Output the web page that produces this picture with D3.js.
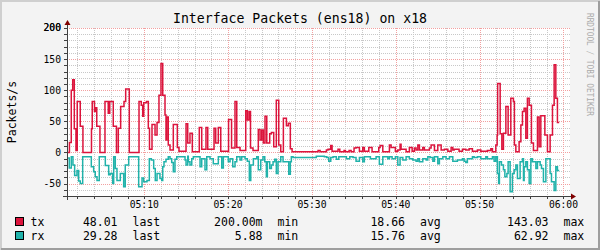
<!DOCTYPE html>
<html>
<head>
<meta charset="utf-8">
<script src="https://cdn.jsdelivr.net/npm/d3@7"></script>
<style>
  body { margin: 0; background: #f0f0f0; }
  svg { display: block; }
  text { font-family: "DejaVu Sans Mono", monospace; fill: #000; }
</style>
</head>
<body>
<div id="vis"></div>
<script>
// step change points: [minutes after 05:00, value]
const txSteps = [
  [0.78, 0], [1.07, 16], [1.29, 100], [1.46, 117], [1.65, 38], [1.85, 3], [2.0, 82], [2.36, 42], [2.68, 0],
  [3.7, 38], [3.79, 82], [4.06, 66], [4.18, 72], [4.33, 42], [4.71, 0],
  [5.31, 82], [5.7, 63], [5.88, 82], [6.3, 42], [6.68, 0],
  [6.9, 39], [7.18, 74], [7.58, 82], [7.78, 102], [8.21, 0],
  [9.37, 82], [9.64, 76], [9.81, 58], [9.93, 80], [10.26, 82], [10.48, 39], [10.62, 5],
  [10.92, 45], [11.28, 28], [11.52, 48], [11.75, 92], [11.99, 143], [12.2, 92], [12.47, 60],
  [12.59, 20], [12.67, 57], [12.86, 12], [13.07, 4], [13.46, 45], [13.94, 8], [14.14, 2],
  [14.98, 46], [15.18, 15], [15.45, 31], [15.73, 1], [16.56, 40], [16.85, 5], [17.36, 40],
  [17.57, 5], [18.32, 39], [18.52, 15], [18.83, 40], [19.12, 2], [20.05, 53], [20.41, 7],
  [20.82, 82], [21.03, 8], [21.42, 3], [22.1, 67], [22.29, 52], [22.49, 66], [22.67, 7],
  [22.97, 3], [23.6, 37], [23.81, 20], [24.01, 36], [24.2, 15], [24.4, 58], [24.61, 15],
  [24.96, 30], [25.16, 32], [25.44, 9], [25.75, 84], [26.04, 12], [26.28, 1], [26.59, 55],
  [26.95, 43], [27.18, 47], [27.42, 6], [27.63, 1],
  [30.73, 3], [30.97, 1], [31.72, 4], [31.92, 5], [32.24, 11], [32.4, 2], [33.11, 5], [33.32, 1],
  [33.83, 3], [33.99, 1], [34.43, 3], [34.67, 1], [35.02, 7], [35.26, 8], [35.66, 2], [36.06, 8],
  [36.25, 2], [36.78, 8], [37.17, 1], [37.97, 8], [38.13, 11], [38.45, 1], [39.24, 12], [39.44, 8],
  [39.95, 2], [40.24, 4], [40.51, 13], [40.63, 5], [41.23, 1], [41.62, 8], [41.95, 2], [42.22, 7],
  [42.42, 4], [42.63, 12], [42.82, 4], [43.22, 8], [43.41, 4], [44.01, 7], [44.21, 12], [44.61, 3],
  [45.01, 12], [45.41, 4], [45.8, 5], [46.21, 2], [46.6, 8], [46.8, 4], [46.96, 5], [47.55, 2],
  [47.95, 5], [48.35, 4], [48.75, 6], [49.14, 2], [49.74, 4], [50.14, 2], [50.93, 3], [51.34, 6],
  [51.53, 1], [51.93, 12], [52.09, 28], [52.15, 111], [52.45, 30], [52.65, 5], [52.84, 31],
  [53.13, 74], [53.4, 28], [53.72, 87], [54.03, 82], [54.15, 12], [54.32, 1], [54.71, 17],
  [54.92, 44], [55.11, 66], [55.31, 71], [55.51, 23], [55.7, 87], [55.91, 76], [56.18, 15],
  [56.42, 3], [56.9, 57], [57.1, 9], [57.3, 59], [57.78, 28], [58.09, 1], [58.41, 28],
  [58.69, 76], [58.89, 141], [59.09, 87], [59.28, 48], [59.49, 48]
];

const rxSteps = [
  [0.78, 9], [1.05, 25], [1.29, 7], [1.49, 20], [1.69, 37], [1.97, 29], [2.17, 46], [2.36, 50], [2.65, 7],
  [3.68, 23], [3.96, 31], [4.15, 39], [4.36, 45], [4.63, 7],
  [5.35, 21], [5.75, 36], [5.94, 34], [6.23, 50], [6.35, 7], [6.54, 26], [6.74, 45], [7.14, 34],
  [7.54, 55], [7.73, 20], [8.14, 7],
  [9.33, 55], [9.73, 41], [9.93, 47], [10.32, 45], [10.6, 10], [10.84, 12], [11.12, 26],
  [11.31, 45], [11.52, 34], [11.87, 42], [12.08, 45], [12.2, 23], [12.35, 15], [12.59, 11],
  [12.86, 7], [13.07, 10], [13.27, 16], [13.46, 31], [13.66, 11], [13.87, 7], [14.86, 12],
  [14.98, 20], [15.18, 6], [15.25, 15], [15.45, 20], [15.66, 10], [15.85, 7], [16.65, 23],
  [16.85, 10], [17.24, 28], [17.45, 7], [17.84, 10], [18.23, 18], [18.83, 7], [19.24, 25],
  [19.43, 7], [20.02, 15], [20.23, 10], [20.55, 23], [20.82, 15], [21.03, 7], [21.42, 12],
  [21.62, 7], [22.02, 10], [22.29, 14], [22.53, 45], [22.7, 20], [23.01, 10], [23.41, 7],
  [23.6, 28], [23.89, 12], [24.16, 7], [24.37, 15], [24.56, 39], [24.68, 15], [24.96, 26],
  [25.16, 20], [25.36, 15], [25.56, 11], [25.75, 34], [25.95, 15], [26.28, 7], [26.55, 15],
  [27.23, 35], [27.42, 15], [27.54, 7], [27.75, 8],
  [30.52, 6], [31.48, 7], [31.77, 8], [32.0, 14], [32.24, 8], [32.52, 7], [32.91, 11], [33.2, 7],
  [34.11, 10], [34.51, 7], [34.9, 8], [35.26, 14], [35.66, 8], [36.06, 15], [36.25, 7],
  [36.97, 10], [37.65, 7], [38.04, 19], [38.45, 7], [39.05, 10], [39.24, 7], [39.56, 10],
  [39.95, 7], [40.24, 20], [40.51, 8], [40.84, 12], [41.23, 7], [41.62, 10], [42.03, 12],
  [42.42, 14], [42.63, 10], [42.82, 15], [43.22, 10], [43.62, 12], [43.82, 7], [44.09, 8],
  [44.42, 14], [44.61, 7], [45.01, 18], [45.2, 10], [45.61, 7], [46.0, 10], [46.4, 7],
  [46.8, 14], [47.35, 12], [47.95, 10], [48.15, 14], [48.35, 16], [48.54, 10], [49.14, 7],
  [49.34, 8], [49.74, 7], [50.14, 10], [50.74, 7], [50.93, 10], [51.53, 7], [51.73, 14],
  [51.93, 7], [52.12, 34], [52.27, 50], [52.36, 15], [52.6, 20], [52.84, 28], [53.01, 39],
  [53.25, 34], [53.4, 15], [53.64, 63], [53.91, 34], [54.12, 28], [54.32, 20], [54.51, 42],
  [54.83, 15], [55.11, 10], [55.23, 45], [55.31, 23], [55.51, 15], [55.7, 28], [55.91, 50],
  [56.11, 10], [56.3, 15], [56.71, 26], [56.9, 15], [57.22, 20], [57.38, 26], [57.61, 47],
  [57.9, 10], [58.41, 34], [58.57, 47], [58.89, 61], [59.09, 23], [59.28, 29], [59.49, 29]
];

const seriesNames = ["tx", "rx"];
const seriesColors = ["#dc143c", "#20b2aa"];
const lastVals = ["48.01", "29.28"];
const minVals = ["200.00m", "5.88"];
const avgVals = ["18.66", "15.76"];
const maxVals = ["143.03", "62.92"];

const W = 600, H = 250;
const plot = { left: 67, right: 570, top: 28, bottom: 196 };

const svg = d3.select("#vis").append("svg").attr("width", W).attr("height", H);

// background + 3d frame
svg.append("rect").attr("width", W).attr("height", H).attr("fill", "#f3f3f3");
svg.append("path").attr("d", `M1,${H} V1 H${W}`).attr("stroke", "#cfcfcf").attr("stroke-width", 2).attr("fill", "none");
svg.append("path").attr("d", `M${W - 1},1 V${H - 1} H1`).attr("stroke", "#9e9e9e").attr("stroke-width", 2).attr("fill", "none");

const t0 = new Date(2024, 0, 1, 5, 0, 0);
const toDate = (m) => new Date(t0.getTime() + m * 60000);

const x = d3.scaleTime()
  .domain([toDate(0.78), toDate(60.78)])
  .range([plot.left, plot.right]);
const y = d3.scaleLinear().domain([-70, 200]).range([plot.bottom, plot.top]);

svg.append("rect")
  .attr("x", plot.left).attr("y", plot.top)
  .attr("width", plot.right - plot.left).attr("height", plot.bottom - plot.top)
  .attr("fill", "#fff");

// grid
const minorX = x.ticks(d3.timeMinute.every(2));
const majorX = x.ticks(d3.timeMinute.every(10));
const yMinor = d3.range(-60, 201, 10).filter((v) => v % 50 !== 0);
const yMajor = d3.range(-50, 201, 50);

const grid = svg.append("g").attr("shape-rendering", "crispEdges");
grid.selectAll(".minx").data(minorX.filter((d) => d.getMinutes() % 10 !== 0)).join("line")
  .attr("x1", (d) => Math.round(x(d)) + 0.5).attr("x2", (d) => Math.round(x(d)) + 0.5)
  .attr("y1", plot.top).attr("y2", plot.bottom)
  .attr("stroke", "#c8c8c8").attr("stroke-dasharray", "1,1");
grid.selectAll(".miny").data(yMinor).join("line")
  .attr("x1", plot.left).attr("x2", plot.right)
  .attr("y1", (d) => Math.round(y(d)) + 0.5).attr("y2", (d) => Math.round(y(d)) + 0.5)
  .attr("stroke", "#c8c8c8").attr("stroke-dasharray", "1,1");
grid.selectAll(".majx").data(majorX).join("line")
  .attr("x1", (d) => Math.round(x(d)) + 0.5).attr("x2", (d) => Math.round(x(d)) + 0.5)
  .attr("y1", plot.top).attr("y2", plot.bottom)
  .attr("stroke", "#f2a0a0").attr("stroke-dasharray", "1,1");
grid.selectAll(".majy").data(yMajor).join("line")
  .attr("x1", plot.left).attr("x2", plot.right)
  .attr("y1", (d) => Math.round(y(d)) + 0.5).attr("y2", (d) => Math.round(y(d)) + 0.5)
  .attr("stroke", "#f2a0a0").attr("stroke-dasharray", "1,1");

// series
const line = d3.line()
  .x((d) => x(toDate(d[0])))
  .curve(d3.curveStepAfter);

svg.append("path")
  .datum(txSteps)
  .attr("d", line.y((d) => y(d[1])))
  .attr("fill", "none").attr("stroke", seriesColors[0]).attr("stroke-width", 1.5);

svg.append("path")
  .datum(rxSteps)
  .attr("d", line.y((d) => y(-d[1])))
  .attr("fill", "none").attr("stroke", seriesColors[1]).attr("stroke-width", 1.5);

// axes
const axisG = svg.append("g").attr("shape-rendering", "crispEdges");
axisG.append("line").attr("x1", plot.left - 4).attr("x2", plot.right + 2)
  .attr("y1", plot.bottom + 0.5).attr("y2", plot.bottom + 0.5).attr("stroke", "#404040");
axisG.append("line").attr("x1", plot.left + 0.5).attr("x2", plot.left + 0.5)
  .attr("y1", plot.bottom + 4).attr("y2", plot.top - 4).attr("stroke", "#404040");
axisG.selectAll(".xt").data(minorX).join("line")
  .attr("x1", (d) => Math.round(x(d)) + 0.5).attr("x2", (d) => Math.round(x(d)) + 0.5)
  .attr("y1", plot.bottom).attr("y2", plot.bottom + 3).attr("stroke", "#404040");
axisG.selectAll(".yt").data(yMinor.concat(yMajor)).join("line")
  .attr("x1", plot.left - 3).attr("x2", plot.left)
  .attr("y1", (d) => Math.round(y(d)) + 0.5).attr("y2", (d) => Math.round(y(d)) + 0.5)
  .attr("stroke", "#404040");

// arrows
svg.append("path")
  .attr("d", `M${plot.left - 2.5},${plot.top - 3} L${plot.left + 3.5},${plot.top - 3} L${plot.left + 0.5},${plot.top - 8} Z`)
  .attr("fill", "#7f0000");
svg.append("path")
  .attr("d", `M${plot.right + 1},${plot.bottom - 2.5} L${plot.right + 1},${plot.bottom + 3.5} L${plot.right + 6},${plot.bottom + 0.5} Z`)
  .attr("fill", "#7f0000");

// tick labels
const fmt = d3.timeFormat("%H:%M");
svg.selectAll(".xl").data(majorX).join("text")
  .attr("x", (d) => x(d)).attr("y", plot.bottom + 12)
  .attr("text-anchor", "middle").attr("font-size", 9.7)
  .text((d) => fmt(d));
svg.selectAll(".yl").data(yMajor.concat([200])).join("text")
  .attr("x", plot.left - 6).attr("y", (d) => y(d)).attr("dy", "0.35em")
  .attr("text-anchor", "end").attr("font-size", 9.7)
  .text((d) => d);

// title, y label, watermark
svg.append("text").attr("x", 300).attr("y", 23).attr("text-anchor", "middle")
  .attr("font-size", 13.2).text("Interface Packets (ens18) on x18");
svg.append("text").attr("transform", "translate(16,112) rotate(-90)")
  .attr("text-anchor", "middle").attr("font-size", 11.5).text("Packets/s");
svg.append("text").attr("transform", "translate(587,13) rotate(90)")
  .attr("font-size", 8.6).attr("textLength", 103).attr("lengthAdjust", "spacingAndGlyphs")
  .style("fill", "#aaaaaa").text("RRDTOOL / TOBI OETIKER");

// legend
const rowY = [226, 240];
seriesNames.forEach((name, i) => {
  svg.append("rect").attr("x", 15.5).attr("y", rowY[i] - 8.5).attr("width", 8).attr("height", 8)
    .attr("fill", seriesColors[i]).attr("stroke", "#000");
  svg.append("text").attr("x", 30.5).attr("y", rowY[i]).attr("font-size", 11.5).text(name);
  const cols = [[lastVals, 117.5, "last"], [minVals, 262.5, "min"], [avgVals, 405, "avg"], [maxVals, 548.5, "max"]];
  cols.forEach(([vals, xe, label]) => {
    svg.append("text").attr("x", xe).attr("y", rowY[i]).attr("text-anchor", "end")
      .attr("font-size", 11.5).text(vals[i]);
    svg.append("text").attr("x", xe + 15).attr("y", rowY[i]).attr("font-size", 11.5).text(label);
  });
});
</script>
</body>
</html>
